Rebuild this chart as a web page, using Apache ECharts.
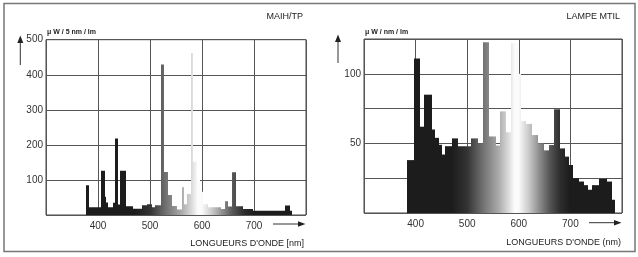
<!DOCTYPE html>
<html>
<head>
<meta charset="utf-8">
<script src="https://cdn.jsdelivr.net/npm/echarts@6/dist/echarts.min.js"></script>
<style>
html,body{margin:0;padding:0;background:#fff;}
#c{width:638px;height:257px;}
</style>
</head>
<body>
<div id="c"></div>
<script>
// ---- DATA ----
const xTicks = [400, 500, 600, 700];
const leftYTicks = [100, 200, 300, 400, 500];
const rightYTicks = [50, 100];
const leftTitle = 'MAIH/TP';
const rightTitle = 'LAMPE MTIL';
const leftUnit = 'μ W / 5 nm / lm';
const rightUnit = 'μ W / nm / lm';
const leftXName = "LONGUEURS D'ONDE [nm]";
const rightXName = "LONGUEURS D'ONDE (nm)";

// [start wavelength, end wavelength, value]
const leftBins = [
  [377,382,85],[382,406,22],[406,413,126],[413,416,52],[416,420,36],[420,429,22],
  [429,433,35],[433,438,218],[438,442,30],[442,454,126],[454,468,25],[468,484,18],
  [484,494,28],[494,503,31],[503,510,22],[510,521,28],[521,526,429],[526,535,123],
  [535,542,57],[542,552,26],[552,561,16],[561,566,79],[566,572,31],[572,579,60],
  [579,583,462],[583,591,152],[591,596,100],[596,601,66],[601,611,31],[611,637,22],
  [637,644,17],[644,650,39],[650,657,24],[657,665,122],[665,679,25],[679,698,17],
  [698,759,12],[759,770,27],[770,773,12]
];
const rightBins = [
  [384,396,38],[396,408,111],[408,417,62],[417,432,85],[432,438,60],[438,445,54],
  [445,451,49],[451,457,42],[457,471,48],[471,483,53.6],[483,508,48],[508,521,53.6],
  [521,530,50],[530,543,122.6],[543,555,55],[555,564,48.5],[564,575,73],[575,585,58],
  [585,598,122],[598,604,100],[604,614,66],[614,626,64],[626,637,56],[637,648,50],
  [648,658,45],[658,668,48.8],[668,679,74.5],[679,690,46.4],[690,698,40.5],[698,706,34.5],
  [706,716,25],[716,726,22.6],[726,734,20],[734,742,16.7],[742,756,20],[756,771,24.5],
  [771,781,22.6],[781,787,9.5]
];

// ---- STYLE ----
const specStops = [
  [300,'#1c1c1c'],[470,'#1c1c1c'],[500,'#333333'],[530,'#707070'],[560,'#a8a8a8'],
  [580,'#dadada'],[592,'#fcfcfc'],[600,'#fafafa'],[620,'#c8c8c8'],[640,'#8c8c8c'],
  [660,'#555555'],[680,'#2e2e2e'],[700,'#1c1c1c'],[800,'#1c1c1c']
];
const FONT = 'Liberation Sans';
const chart = echarts.init(document.getElementById('c'), null, {renderer:'canvas'});

function renderBar(params, api) {
  const x0 = api.value(0), x1 = api.value(1), v = api.value(2);
  const pTop = api.coord([x0, v]);
  const pBot = api.coord([x1, 0]);
  const gx0 = api.coord([300, 0])[0], gx1 = api.coord([800, 0])[0];
  const stops = specStops.map(s => ({offset:(s[0]-300)/500, color:s[1]}));
  const xl = Math.round(pTop[0]), xr = Math.round(pBot[0]);
  return {
    type:'rect',
    shape:{x:xl, y:pTop[1], width:xr-xl, height:pBot[1]-pTop[1]},
    style:{fill:new echarts.graphic.LinearGradient(gx0,0,gx1,0,stops,true)}
  };
}

function xAxisCfg(gi){
  return {
    type:'value', gridIndex:gi, min:300, max:800, interval:100,
    axisLine:{show:false}, axisTick:{show:false},
    splitLine:{show:true, lineStyle:{color:'#555', width:1}},
    axisLabel:{margin:6, color:'#333', fontFamily:FONT, fontSize:10,
      formatter:v => xTicks.indexOf(v) >= 0 ? String(v) : ''}
  };
}

const option = {
  animation:false,
  grid:[
    {left:46, top:39.7, width:260, height:175.3, show:true, borderColor:'#444', borderWidth:1},
    {left:364, top:39, width:258, height:174, show:true, borderColor:'#444', borderWidth:1}
  ],
  xAxis:[xAxisCfg(0), xAxisCfg(1)],
  yAxis:[
    {type:'value', gridIndex:0, min:0, max:500, interval:100,
     axisLine:{show:false}, axisTick:{show:false},
     splitLine:{show:true, lineStyle:{color:'#555', width:1}},
     axisLabel:{margin:3, color:'#333', fontFamily:FONT, fontSize:10,
       formatter:v => leftYTicks.indexOf(v) >= 0 ? String(v) : ''}},
    {type:'value', gridIndex:1, min:0, max:125, interval:25,
     axisLine:{show:false}, axisTick:{show:false},
     splitLine:{show:true, lineStyle:{color:'#555', width:1}},
     axisLabel:{margin:3, color:'#333', fontFamily:FONT, fontSize:10,
       formatter:v => rightYTicks.indexOf(v) >= 0 ? String(v) : ''}}
  ],
  series:[
    {type:'custom', xAxisIndex:0, yAxisIndex:0, renderItem:renderBar,
     encode:{x:[0,1], y:2}, data:leftBins, clip:true, z:3},
    {type:'custom', xAxisIndex:1, yAxisIndex:1, renderItem:renderBar,
     encode:{x:[0,1], y:2}, data:rightBins, clip:true, z:3}
  ],
  graphic:[
    {type:'rect', shape:{x:4, y:3.5, width:631, height:248}, style:{fill:null, stroke:'#777', lineWidth:1.5}, silent:true},
    // titles
    {type:'text', right:638-303, top:12, style:{text:leftTitle, font:'9px '+FONT, fill:'#222'}},
    {type:'text', right:638-620, top:12, style:{text:rightTitle, font:'9px '+FONT, fill:'#222'}},
    // units
    {type:'text', left:47, top:29, style:{text:leftUnit, font:'bold 7px '+FONT, fill:'#222'}},
    {type:'text', left:365, top:29, style:{text:rightUnit, font:'bold 7px '+FONT, fill:'#222'}},
    // axis names
    {type:'text', right:638-304, top:239, style:{text:leftXName, font:'9px '+FONT, fill:'#222'}},
    {type:'text', right:638-621, top:238, style:{text:rightXName, font:'9px '+FONT, fill:'#222'}},
    // y arrows
    {type:'line', shape:{x1:20.3, y1:42, x2:20.3, y2:65}, style:{stroke:'#333', lineWidth:1}},
    {type:'polygon', shape:{points:[[17.3,43],[23.3,43],[20.3,35.5]]}, style:{fill:'#222'}},
    {type:'line', shape:{x1:338, y1:41, x2:338, y2:63}, style:{stroke:'#333', lineWidth:1}},
    {type:'polygon', shape:{points:[[335,42],[341,42],[338,34.5]]}, style:{fill:'#222'}},
    // x arrows
    {type:'line', shape:{x1:273, y1:224, x2:299, y2:224}, style:{stroke:'#333', lineWidth:1}},
    {type:'polygon', shape:{points:[[298,221.3],[298,226.7],[305.5,224]]}, style:{fill:'#222'}},
    {type:'line', shape:{x1:589, y1:222.7, x2:615, y2:222.7}, style:{stroke:'#333', lineWidth:1}},
    {type:'polygon', shape:{points:[[614,220],[614,225.4],[621.5,222.7]]}, style:{fill:'#222'}}
  ]
};
chart.setOption(option);
</script>
</body>
</html>
